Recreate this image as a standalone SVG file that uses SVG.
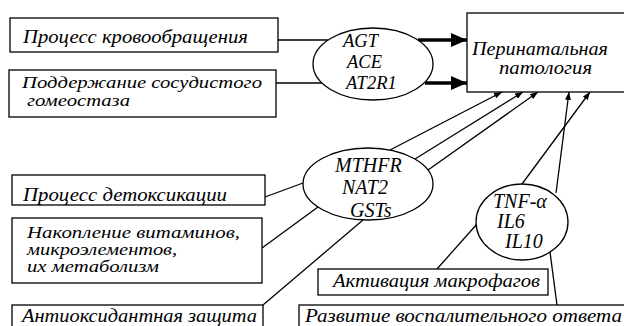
<svg xmlns="http://www.w3.org/2000/svg" width="624" height="326" viewBox="0 0 624 326">
<style>
.box{fill:#fff;stroke:#000;stroke-width:1.3}
.ell{fill:#fff;stroke:#000;stroke-width:1.3}
.t{font-size:19px}
.s{font-size:16px}
.g{font-size:20px}
.a{font-size:18.5px}
.ln{stroke:#000;stroke-width:1.3;fill:none}
.thin{stroke:#000;stroke-width:1.3;fill:none;marker-end:url(#ah)}
.thick{stroke:#000;stroke-width:3.5;fill:none;marker-end:url(#AH)}
</style>
<defs>
<marker id="ah" markerUnits="userSpaceOnUse" markerWidth="8" markerHeight="6" refX="8" refY="3" orient="auto">
<path d="M0,0 L8,3 L0,6 Z" fill="#000"/>
</marker>
<marker id="AH" markerUnits="userSpaceOnUse" markerWidth="16" markerHeight="14" refX="16" refY="7" orient="auto">
<path d="M0,0 L16,7 L0,14 Z" fill="#000"/>
</marker>
</defs>
<rect width="624" height="326" fill="#fff"/>
<g id="connectors">
<line class="ln" x1="278" y1="40" x2="328" y2="40"/>
<line class="ln" x1="276" y1="83" x2="322" y2="83"/>
<line class="thick" x1="418" y1="40" x2="467" y2="40"/>
<line class="thick" x1="425" y1="83" x2="467" y2="83"/>
<line class="ln" x1="265" y1="197" x2="303" y2="183"/>
<line class="ln" x1="262" y1="248" x2="318" y2="207"/>
<line class="ln" x1="263" y1="305" x2="363" y2="220"/>
<line class="thin" x1="390" y1="150" x2="502" y2="92"/>
<line class="thin" x1="415" y1="159" x2="523" y2="92"/>
<line class="thin" x1="428" y1="170" x2="538" y2="92"/>
<line class="thin" x1="522" y1="184" x2="590" y2="92"/>
<line class="thin" x1="556" y1="193" x2="569" y2="92"/>
<line class="ln" x1="437" y1="269" x2="477" y2="224"/>
<line class="ln" x1="557" y1="305" x2="550" y2="252"/>
</g>
<g font-family="Liberation Serif, Times New Roman, serif" font-style="italic" fill="#000">
<g id="n-krovo">
<rect class="box" x="10" y="18" width="268" height="34"/>
<text class="t" x="23" y="43" textLength="225" lengthAdjust="spacingAndGlyphs">Процесс кровообращения</text>
</g>
<g id="n-gomeo">
<rect class="box" x="9" y="70" width="267" height="47"/>
<text class="s" x="22" y="88" textLength="240" lengthAdjust="spacingAndGlyphs">Поддержание сосудистого</text>
<text class="s" x="27" y="106" textLength="103" lengthAdjust="spacingAndGlyphs">гомеостаза</text>
</g>
<g id="n-agt">
<ellipse class="ell" cx="373" cy="64" rx="60" ry="36"/>
<text class="a" x="343" y="47">AGT</text>
<text class="a" x="347" y="68">ACE</text>
<text class="a" x="346" y="89">AT2R1</text>
</g>
<g id="n-perinat">
<rect class="box" x="467" y="13" width="170" height="79"/>
<text class="t" x="472" y="55" textLength="136" lengthAdjust="spacingAndGlyphs">Перинатальная</text>
<text class="t" x="499" y="74" textLength="93" lengthAdjust="spacingAndGlyphs">патология</text>
</g>
<g id="n-detox">
<rect class="box" x="12" y="175" width="253" height="30"/>
<text class="t" x="23" y="201" textLength="204" lengthAdjust="spacingAndGlyphs">Процесс детоксикации</text>
</g>
<g id="n-vitamin">
<rect class="box" x="12" y="218" width="250" height="65"/>
<text class="s" x="27" y="238" textLength="213" lengthAdjust="spacingAndGlyphs">Накопление витаминов,</text>
<text class="s" x="27" y="255" textLength="150" lengthAdjust="spacingAndGlyphs">микроэлементов,</text>
<text class="s" x="27" y="272" textLength="132" lengthAdjust="spacingAndGlyphs">их метаболизм</text>
</g>
<g id="n-antiox">
<rect class="box" x="12" y="305" width="251" height="30"/>
<text class="t" x="22" y="322" textLength="235" lengthAdjust="spacingAndGlyphs">Антиоксидантная защита</text>
</g>
<g id="n-mthfr">
<ellipse class="ell" cx="368" cy="184" rx="65" ry="36"/>
<text class="g" x="335" y="172">MTHFR</text>
<text class="g" x="342" y="194">NAT2</text>
<text class="g" x="350" y="217">GSTs</text>
</g>
<g id="n-tnf">
<ellipse class="ell" cx="522" cy="222" rx="46" ry="38"/>
<text class="g" x="493" y="208">TNF-α</text>
<text class="g" x="497" y="228">IL6</text>
<text class="g" x="505" y="248">IL10</text>
</g>
<g id="n-makro">
<rect class="box" x="318" y="269" width="230" height="26"/>
<text class="t" x="333" y="287" textLength="207" lengthAdjust="spacingAndGlyphs">Активация макрофагов</text>
</g>
<g id="n-vospal">
<rect class="box" x="299" y="305" width="330" height="30"/>
<text class="t" x="305" y="322" textLength="317" lengthAdjust="spacingAndGlyphs">Развитие воспалительного ответа</text>
</g>
</g>
</svg>
